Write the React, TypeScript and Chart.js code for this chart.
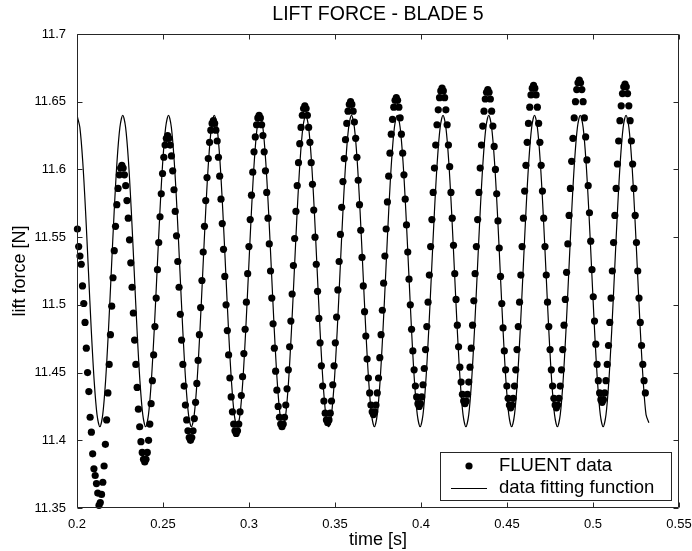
import { useEffect, useRef } from "react";
import { Chart, registerables } from "chart.js";

Chart.register(...registerables);

// ---- Data -------------------------------------------------------------
const chartTitle = "LIFT FORCE - BLADE 5";
const xAxisTitle = "time [s]";
const yAxisTitle = "lift force [N]";
const seriesLabels = ["FLUENT data", "data fitting function"];

// FLUENT samples: constant solver time step
const FLUENT_T0 = 0.20024;
const FLUENT_DT = 0.0007387;
const fluentLift = [
  11.556, 11.543, 11.536, 11.530, 11.514, 11.501, 11.487, 11.468, 11.450, 11.436, 11.417, 11.406, 11.390, 11.379, 11.374, 11.368, 11.361,
  11.352, 11.354, 11.360, 11.369, 11.381, 11.397, 11.415, 11.435, 11.456, 11.478, 11.499, 11.520, 11.540, 11.558, 11.574, 11.586, 11.596, 11.601,
  11.603, 11.601, 11.596, 11.588, 11.577, 11.564, 11.548, 11.531, 11.513, 11.494, 11.474, 11.456, 11.439, 11.423, 11.410, 11.399, 11.391, 11.386,
  11.384, 11.386, 11.391, 11.400, 11.412, 11.427, 11.444, 11.463, 11.484, 11.505, 11.526, 11.546, 11.565, 11.582, 11.597, 11.609, 11.618, 11.623,
  11.625, 11.623, 11.618, 11.610, 11.599, 11.585, 11.569, 11.551, 11.532, 11.513, 11.493, 11.474, 11.456, 11.440, 11.426, 11.415, 11.407, 11.402,
  11.400, 11.402, 11.407, 11.416, 11.428, 11.442, 11.459, 11.478, 11.498, 11.518, 11.539, 11.558, 11.577, 11.594, 11.608, 11.620, 11.629, 11.634,
  11.636, 11.634, 11.629, 11.621, 11.609, 11.595, 11.578, 11.560, 11.541, 11.521, 11.500, 11.481, 11.463, 11.446, 11.432, 11.421, 11.412, 11.407,
  11.405, 11.407, 11.412, 11.421, 11.433, 11.447, 11.464, 11.482, 11.502, 11.523, 11.543, 11.563, 11.581, 11.598, 11.613, 11.624, 11.633, 11.638,
  11.640, 11.638, 11.633, 11.625, 11.613, 11.599, 11.583, 11.564, 11.545, 11.525, 11.505, 11.486, 11.468, 11.451, 11.437, 11.425, 11.417, 11.412,
  11.410, 11.412, 11.417, 11.426, 11.438, 11.452, 11.469, 11.488, 11.508, 11.529, 11.549, 11.569, 11.588, 11.605, 11.619, 11.631, 11.640, 11.645,
  11.647, 11.645, 11.640, 11.631, 11.620, 11.605, 11.589, 11.570, 11.550, 11.530, 11.510, 11.490, 11.472, 11.455, 11.440, 11.429, 11.420, 11.415,
  11.413, 11.415, 11.420, 11.429, 11.441, 11.455, 11.472, 11.491, 11.511, 11.532, 11.552, 11.572, 11.591, 11.608, 11.622, 11.634, 11.643, 11.648,
  11.650, 11.648, 11.643, 11.635, 11.623, 11.609, 11.592, 11.574, 11.555, 11.535, 11.514, 11.495, 11.477, 11.460, 11.446, 11.435, 11.426, 11.421,
  11.419, 11.421, 11.426, 11.435, 11.446, 11.461, 11.478, 11.496, 11.516, 11.536, 11.556, 11.576, 11.595, 11.612, 11.626, 11.637, 11.646, 11.651,
  11.653, 11.651, 11.646, 11.638, 11.626, 11.612, 11.596, 11.578, 11.559, 11.539, 11.519, 11.500, 11.482, 11.466, 11.452, 11.440, 11.432, 11.427,
  11.425, 11.427, 11.432, 11.441, 11.453, 11.467, 11.484, 11.502, 11.522, 11.543, 11.563, 11.583, 11.601, 11.618, 11.633, 11.644, 11.653, 11.658,
  11.660, 11.658, 11.653, 11.644, 11.633, 11.618, 11.602, 11.583, 11.564, 11.544, 11.523, 11.504, 11.485, 11.469, 11.454, 11.443, 11.434, 11.429,
  11.427, 11.429, 11.434, 11.443, 11.454, 11.468, 11.485, 11.503, 11.523, 11.543, 11.563, 11.583, 11.601, 11.618, 11.632, 11.643, 11.652, 11.657,
  11.659, 11.657, 11.652, 11.643, 11.632, 11.617, 11.600, 11.582, 11.562, 11.542, 11.521, 11.501, 11.483, 11.466, 11.452, 11.440, 11.431, 11.426,
  11.424, 11.426, 11.431, 11.440, 11.452, 11.467, 11.484, 11.502, 11.522, 11.543, 11.564, 11.584, 11.603, 11.620, 11.634, 11.646, 11.655, 11.660,
  11.662, 11.660, 11.655, 11.646, 11.634, 11.620, 11.603, 11.584, 11.564, 11.543, 11.522, 11.502, 11.484, 11.467, 11.452, 11.440, 11.431, 11.426,
  11.424, 11.426, 11.431, 11.440, 11.452, 11.467, 11.485, 11.504, 11.524, 11.545, 11.566, 11.586, 11.606, 11.623, 11.638, 11.650, 11.659, 11.664,
  11.666, 11.664, 11.659, 11.650, 11.638, 11.624, 11.607, 11.588, 11.568, 11.547, 11.526, 11.506, 11.488, 11.471, 11.456, 11.444, 11.435, 11.430,
  11.428, 11.430, 11.435, 11.444, 11.456, 11.470, 11.487, 11.505, 11.525, 11.546, 11.566, 11.586, 11.604, 11.621, 11.636, 11.647, 11.656, 11.661,
  11.663, 11.661, 11.656, 11.647, 11.636, 11.621, 11.604, 11.586, 11.566, 11.546, 11.525, 11.505, 11.487, 11.470, 11.456, 11.444, 11.435,
];

// fitting function, sampled at a constant step
const FIT_T0 = 0.2;
const FIT_DT = 0.0016625;
const fitLift = [
  11.640, 11.631, 11.606, 11.569, 11.525, 11.481, 11.444, 11.419, 11.410, 11.419, 11.444, 11.481, 11.525, 11.569, 11.606, 11.631,
  11.640, 11.631, 11.606, 11.569, 11.525, 11.481, 11.444, 11.419, 11.410, 11.419, 11.444, 11.481, 11.525, 11.569, 11.606, 11.631,
  11.640, 11.631, 11.606, 11.569, 11.525, 11.481, 11.444, 11.419, 11.410, 11.419, 11.444, 11.481, 11.525, 11.569, 11.606, 11.631,
  11.640, 11.631, 11.606, 11.569, 11.525, 11.481, 11.444, 11.419, 11.410, 11.419, 11.444, 11.481, 11.525, 11.569, 11.606, 11.631,
  11.640, 11.631, 11.606, 11.569, 11.525, 11.481, 11.444, 11.419, 11.410, 11.419, 11.444, 11.481, 11.525, 11.569, 11.606, 11.631,
  11.640, 11.631, 11.606, 11.569, 11.525, 11.481, 11.444, 11.419, 11.410, 11.419, 11.444, 11.481, 11.525, 11.569, 11.606, 11.631,
  11.640, 11.631, 11.606, 11.569, 11.525, 11.481, 11.444, 11.419, 11.410, 11.419, 11.444, 11.481, 11.525, 11.569, 11.606, 11.631,
  11.640, 11.631, 11.606, 11.569, 11.525, 11.481, 11.444, 11.419, 11.410, 11.419, 11.444, 11.481, 11.525, 11.569, 11.606, 11.631,
  11.640, 11.631, 11.606, 11.569, 11.525, 11.481, 11.444, 11.419, 11.410, 11.419, 11.444, 11.481, 11.525, 11.569, 11.606, 11.631,
  11.640, 11.631, 11.606, 11.569, 11.525, 11.481, 11.444, 11.419, 11.410, 11.419, 11.444, 11.481, 11.525, 11.569, 11.606, 11.631,
  11.640, 11.631, 11.606, 11.569, 11.525, 11.481, 11.444, 11.419, 11.410, 11.419, 11.444, 11.481, 11.525, 11.569, 11.606, 11.631,
  11.640, 11.631, 11.606, 11.569, 11.525, 11.481, 11.444, 11.419, 11.410, 11.419, 11.444, 11.481, 11.525, 11.569, 11.606, 11.631,
  11.640, 11.631, 11.606, 11.569, 11.525, 11.481, 11.444, 11.419, 11.413,
];

const xTickValues = [0.2, 0.25, 0.3, 0.35, 0.4, 0.45, 0.5, 0.55];
const xTickLabels = ["0.2", "0.25", "0.3", "0.35", "0.4", "0.45", "0.5", "0.55"];
const yTickValues = [11.35, 11.4, 11.45, 11.5, 11.55, 11.6, 11.65, 11.7];
const yTickLabels = ["11.35", "11.4", "11.45", "11.5", "11.55", "11.6", "11.65", "11.7"];

// ---- Styling ----------------------------------------------------------
const FONT = '"Liberation Sans", Arial, Helvetica, sans-serif';
const INK = "#000000";
const AXIS = "#262626";

const framePlugin = {
  id: "matlabFrame",
  afterDatasetsDraw(chart: any) {
    const { ctx, chartArea: a, scales } = chart;
    const L = Math.round(a.left) + 0.5;
    const R = Math.round(a.right) - 0.5;
    const T = Math.round(a.top) + 0.5;
    const B = Math.round(a.bottom) - 0.5;
    const tick = 5;
    ctx.save();
    ctx.strokeStyle = AXIS;
    ctx.lineWidth = 1;
    ctx.beginPath();
    ctx.rect(L, T, R - L, B - T);
    for (const t of scales.x.ticks) {
      const px = Math.round(scales.x.getPixelForValue(t.value)) + 0.5;
      ctx.moveTo(px, B);
      ctx.lineTo(px, B - tick);
      ctx.moveTo(px, T);
      ctx.lineTo(px, T + tick);
    }
    for (const t of scales.y.ticks) {
      const py = Math.round(scales.y.getPixelForValue(t.value)) + 0.5;
      ctx.moveTo(L, py);
      ctx.lineTo(L + tick, py);
      ctx.moveTo(R, py);
      ctx.lineTo(R - tick, py);
    }
    ctx.stroke();
    ctx.restore();
  },
};

const legendPlugin = {
  id: "boxLegend",
  afterDraw(chart: any) {
    const { ctx, chartArea: a } = chart;
    const ds = chart.data.datasets;
    const w = 231;
    const h = 48;
    const left = Math.round(a.right - 8 - w);
    const top = Math.round(a.bottom - 8 - h);
    ctx.save();
    ctx.fillStyle = "#ffffff";
    ctx.fillRect(left, top, w, h);
    ctx.strokeStyle = AXIS;
    ctx.lineWidth = 1;
    ctx.strokeRect(left + 0.5, top + 0.5, w, h);
    const row1 = top + 14;
    const row2 = top + 36;
    ctx.fillStyle = INK;
    ctx.beginPath();
    ctx.arc(left + 29, row1, 3.6, 0, Math.PI * 2);
    ctx.fill();
    ctx.strokeStyle = INK;
    ctx.lineWidth = 1.2;
    ctx.beginPath();
    ctx.moveTo(left + 11, row2 + 0.5);
    ctx.lineTo(left + 47, row2 + 0.5);
    ctx.stroke();
    ctx.font = `18.5px ${FONT}`;
    ctx.textBaseline = "middle";
    ctx.textAlign = "left";
    ctx.fillText(ds[0].label, left + 59, row1);
    ctx.fillText(ds[1].label, left + 59, row2);
    ctx.restore();
  },
};

export default function App() {
  const ref = useRef<HTMLCanvasElement | null>(null);

  useEffect(() => {
    document.body.style.margin = "0";
    Chart.defaults.font.family = FONT;
    const fluentPoints = fluentLift.map((y, i) => ({ x: FLUENT_T0 + i * FLUENT_DT, y }));
    const fitPoints = fitLift.map((y, i) => ({ x: FIT_T0 + i * FIT_DT, y }));

    const chart = new Chart(ref.current as HTMLCanvasElement, {
      type: "scatter",
      data: {
        datasets: [
          {
            label: seriesLabels[0],
            data: fluentPoints,
            showLine: false,
            pointRadius: 3.6,
            pointBorderWidth: 0,
            pointBackgroundColor: INK,
            borderColor: INK,
            order: 1,
            clip: 5,
          } as any,
          {
            label: seriesLabels[1],
            data: fitPoints,
            showLine: true,
            pointRadius: 0,
            borderColor: INK,
            borderWidth: 1.2,
            tension: 0.3,
            order: 0,
          } as any,
        ],
      },
      options: {
        animation: false,
        responsive: false,
        devicePixelRatio: 1,
        events: [],
        layout: { padding: { left: 0, right: 13, top: 0, bottom: 0 } },
        plugins: {
          legend: { display: false },
          tooltip: { enabled: false },
          title: {
            display: true,
            text: chartTitle,
            color: INK,
            fullSize: false,
            font: { family: FONT, size: 19.5, weight: "normal" },
            padding: { top: 3, bottom: 7.6 },
          },
        },
        scales: {
          x: {
            type: "linear",
            min: 0.2,
            max: 0.55,
            afterBuildTicks: (s: any) => {
              s.ticks = xTickValues.map((v) => ({ value: v }));
            },
            afterFit: (s: any) => {
              s.height = 43;
              s.paddingLeft = 0;
              s.paddingRight = 0;
            },
            grid: { display: false },
            border: { display: false },
            ticks: {
              color: INK,
              font: { family: FONT, size: 13 },
              padding: 1,
              maxRotation: 0,
              autoSkip: false,
              callback: (_v: any, i: number) => xTickLabels[i],
            },
            title: {
              display: true,
              text: xAxisTitle,
              color: INK,
              font: { family: FONT, size: 18 },
              padding: { top: 0, bottom: 0 },
            },
          },
          y: {
            type: "linear",
            min: 11.35,
            max: 11.7,
            afterBuildTicks: (s: any) => {
              s.ticks = yTickValues.map((v) => ({ value: v }));
            },
            afterFit: (s: any) => {
              s.width = 77;
              s.paddingTop = 0;
              s.paddingBottom = 0;
            },
            grid: { display: false },
            border: { display: false },
            ticks: {
              color: INK,
              font: { family: FONT, size: 13 },
              padding: 3,
              autoSkip: false,
              callback: (_v: any, i: number) => yTickLabels[i],
            },
            title: {
              display: true,
              text: yAxisTitle,
              color: INK,
              font: { family: FONT, size: 18 },
              padding: { top: 9, bottom: 0 },
            },
          },
        },
      } as any,
      plugins: [framePlugin, legendPlugin],
    });
    return () => chart.destroy();
  }, []);

  return <canvas ref={ref} width={692} height={551} style={{ display: "block" }} />;
}
